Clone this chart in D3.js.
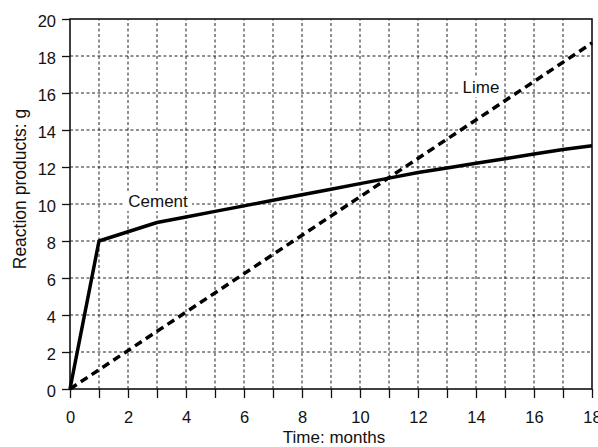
<!DOCTYPE html>
<html>
<head>
<meta charset="utf-8">
<script src="https://cdn.jsdelivr.net/npm/d3@7"></script>
<style>
  body { margin: 0; background: #fff; }
  svg { display: block; font-family: "Liberation Sans", Arial, sans-serif; }
</style>
</head>
<body>
<svg id="chart" width="598" height="447"></svg>
<script>
// Data
const cementMonths = [0, 1, 3, 4, 5, 6, 7, 8, 9, 10, 11, 12, 13, 14, 15, 16, 17, 18];
const cementValues = [0, 8, 9.0, 9.3, 9.6, 9.9, 10.2, 10.5, 10.8, 11.1, 11.4, 11.7, 11.95, 12.2, 12.45, 12.7, 12.95, 13.15];
const limeMonths = [0, 18];
const limeValues = [0, 18.7];
const xTicks = [0, 2, 4, 6, 8, 10, 12, 14, 16, 18];
const yTicks = [0, 2, 4, 6, 8, 10, 12, 14, 16, 18, 20];

const svg = d3.select("#chart");
const margin = {left: 70, right: 6, top: 19, bottom: 58};
const W = 598, H = 447;
const x = d3.scaleLinear().domain([0, 18]).range([margin.left, W - margin.right]);
const y = d3.scaleLinear().domain([0, 20]).range([H - margin.bottom, margin.top]);

// grid
const grid = svg.append("g");
grid.selectAll("line.v").data(d3.range(1, 18)).enter().append("line")
  .attr("x1", d => x(d)).attr("x2", d => x(d))
  .attr("y1", y(0)).attr("y2", y(20))
  .attr("stroke", "#222").attr("stroke-width", 1).attr("stroke-dasharray", "3,2.5");
grid.selectAll("line.h").data(yTicks.filter(d => d > 0 && d < 20)).enter().append("line")
  .attr("x1", x(0)).attr("x2", x(18))
  .attr("y1", d => y(d)).attr("y2", d => y(d))
  .attr("stroke", "#222").attr("stroke-width", 1).attr("stroke-dasharray", "3,2.5");

// frame
svg.append("rect").attr("x", x(0)).attr("y", y(20))
  .attr("width", x(18) - x(0)).attr("height", y(0) - y(20))
  .attr("fill", "none").attr("stroke", "#111").attr("stroke-width", 1.6);

// axes
const xAxis = d3.axisBottom(x).tickValues(d3.range(0, 19)).tickSize(9)
  .tickFormat(d => xTicks.includes(d) ? d : "");
const gx = svg.append("g").attr("transform", `translate(0,${y(0)})`).call(xAxis);
gx.select(".domain").remove();
gx.selectAll("line").attr("stroke", "#111").attr("stroke-width", 1.3);
gx.selectAll("text").attr("font-size", 16.5).attr("fill", "#111").attr("dy", "1.35em");

const yAxis = d3.axisLeft(y).tickValues(yTicks).tickSize(8).tickPadding(6);
const gy = svg.append("g").attr("transform", `translate(${x(0)},0)`).call(yAxis);
gy.select(".domain").remove();
gy.selectAll("line").attr("stroke", "#111").attr("stroke-width", 1.3);
gy.selectAll("text").attr("font-size", 16.5).attr("fill", "#111").attr("dy", "0.45em");

// axis titles
svg.append("text").attr("x", 334).attr("y", 443).attr("text-anchor", "middle")
  .attr("font-size", 17).attr("fill", "#111").text("Time: months");
svg.append("text").attr("transform", `translate(26,189) rotate(-90)`)
  .attr("text-anchor", "middle").attr("font-size", 17.5).attr("fill", "#111")
  .text("Reaction products: g");

// labels with white backgrounds
const labels = svg.append("g");
function label(txt, cx, by) {
  const g = labels.append("g");
  const bg = g.append("rect").attr("fill", "#fff");
  const t = g.append("text").attr("x", cx).attr("y", by).attr("text-anchor", "middle")
    .attr("font-size", 17).attr("fill", "#111").text(txt);
  const b = t.node().getBBox();
  bg.attr("x", b.x - 4).attr("y", b.y).attr("width", b.width + 8).attr("height", b.height);
}
label("Cement", 158, 207);
label("Lime", 481, 93);

// lines
const line = d3.line().x(d => x(d[0])).y(d => y(d[1]));
svg.append("path").datum(cementMonths.map((m, i) => [m, cementValues[i]]))
  .attr("d", line).attr("fill", "none").attr("stroke", "#000")
  .attr("stroke-width", 3.5).attr("stroke-linejoin", "round");
svg.append("path").datum(limeMonths.map((m, i) => [m, limeValues[i]]))
  .attr("d", line).attr("fill", "none").attr("stroke", "#000")
  .attr("stroke-width", 3.5).attr("stroke-dasharray", "8,5");
</script>
</body>
</html>
